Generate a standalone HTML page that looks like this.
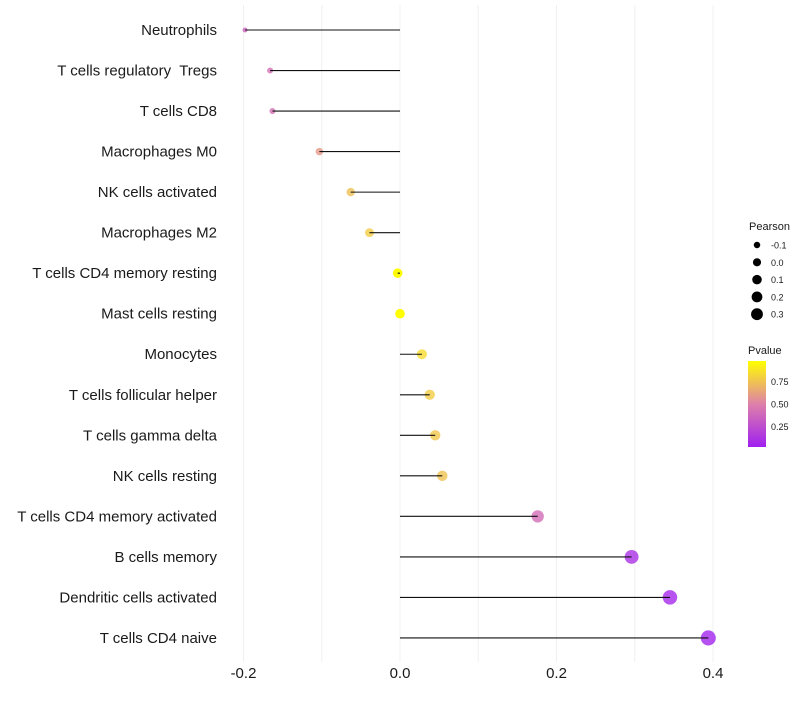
<!DOCTYPE html>
<html><head><meta charset="utf-8"><style>
body{margin:0;background:#fff;width:800px;height:700px;overflow:hidden}
svg{font-family:"Liberation Sans",sans-serif}
text{white-space:pre}
</style></head><body>
<svg id="chart" width="800" height="700"></svg>
<script>
const categories=["Neutrophils","T cells regulatory  Tregs","T cells CD8","Macrophages M0","NK cells activated","Macrophages M2","T cells CD4 memory resting","Mast cells resting","Monocytes","T cells follicular helper","T cells gamma delta","NK cells resting","T cells CD4 memory activated","B cells memory","Dendritic cells activated","T cells CD4 naive"];
const pearson=[-0.198,-0.166,-0.163,-0.103,-0.063,-0.039,-0.003,0.0,0.028,0.038,0.045,0.054,0.176,0.296,0.345,0.394];
const pvalue=[0.35,0.42,0.42,0.6,0.75,0.8,0.99,1.0,0.86,0.8,0.78,0.76,0.4,0.08,0.04,0.02];
const xTicks=[-0.2,0.0,0.2,0.4];
const xGrid=[-0.2,-0.1,0.0,0.1,0.2,0.3,0.4];
const sizeLegend=[-0.1,0.0,0.1,0.2,0.3];
const pvalTicks=[0.25,0.50,0.75];

const NS="http://www.w3.org/2000/svg";
const svg=document.getElementById('chart');
function X(v){return 400+v*782.5;}
function Y(i){return 30+i*40.53;}
function R(v){return Math.sqrt(Math.max(3,6+(v+0.2)*85));}
function lerp(a,b,t){return a+(b-a)*t;}
function col(p){
  const s=[[0,[160,32,240]],[0.5,[222,128,170]],[1,[255,255,0]]];
  let k=p<0.5?0:1;const t=(p-s[k][0])/0.5;
  const c=s[k][1].map((v,j)=>Math.round(lerp(v,s[k+1][1][j],t)));
  return `rgb(${c.join(',')})`;
}
function el(t,a){const e=document.createElementNS(NS,t);for(const k in a)e.setAttribute(k,a[k]);svg.appendChild(e);return e;}

xGrid.forEach(v=>{
  const g=el('line',{x1:X(v),x2:X(v),y1:5,y2:662,stroke:'#f0f0f0','stroke-width':1});
  
  
});
xTicks.forEach(v=>{
  const t=el('text',{x:X(v),y:678,'font-size':15,'text-anchor':'middle',fill:'#1a1a1a'});
  t.textContent=v.toFixed(1);
  
  
});
categories.forEach((c,i)=>{
  const t=el('text',{x:217,y:Y(i)+5,'font-size':15,'text-anchor':'end',fill:'#1a1a1a'});
  t.textContent=c;
  
  
  const p=el('circle',{cx:X(pearson[i]),cy:Y(i),r:R(pearson[i]),fill:col(pvalue[i]),'fill-opacity':pvalue[i]>0.95?1:0.8});
  
  
  const l=el('line',{x1:X(0),x2:X(pearson[i]),y1:Y(i),y2:Y(i),stroke:'#111','stroke-width':1.1});
  
  
});
let t=el('text',{x:749,y:230,'font-size':11,fill:'#1a1a1a'});t.textContent='Pearson';


sizeLegend.forEach((v,i)=>{
  const y=245+i*17.3;
  const c=el('circle',{cx:757,cy:y,r:R(v)*0.85,fill:'#000'});
  
  
  const l=el('text',{x:771,y:y+3.5,'font-size':9,fill:'#1a1a1a'});l.textContent=v.toFixed(1);
  
  
});
t=el('text',{x:748,y:354,'font-size':11,fill:'#1a1a1a'});t.textContent='Pvalue';


const defs=el('defs',{});
const lg=document.createElementNS(NS,'linearGradient');
lg.setAttribute('id','pg');lg.setAttribute('x1',0);lg.setAttribute('y1',1);lg.setAttribute('x2',0);lg.setAttribute('y2',0);
defs.appendChild(lg);
[0,0.25,0.5,0.75,1].forEach(o=>{const s=document.createElementNS(NS,'stop');s.setAttribute('offset',o);s.setAttribute('stop-color',col(o));lg.appendChild(s);});
const bar=el('rect',{x:748,y:361,width:18,height:86,fill:'url(#pg)'});


pvalTicks.forEach(v=>{
  const y=447-(v-0.02)/0.96*86;
  const l=el('text',{x:771,y:y+3.5,'font-size':9,fill:'#1a1a1a'});l.textContent=v.toFixed(2);
  
  
});
</script>
</body></html>
